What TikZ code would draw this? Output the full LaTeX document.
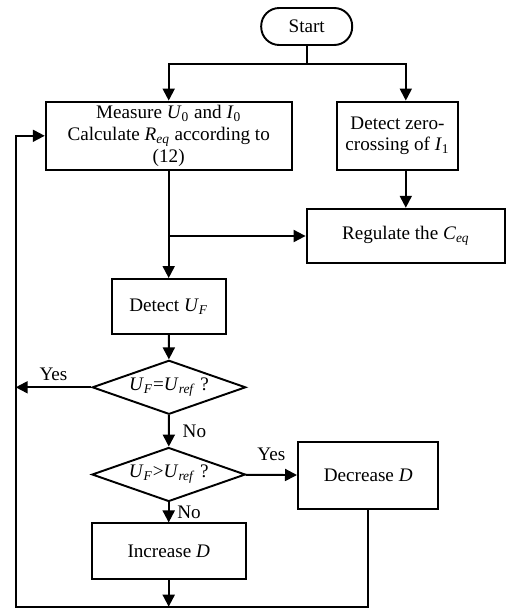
\documentclass[tikz,border=0pt]{standalone}
\usepackage{fontspec}
\setmainfont{Liberation Serif}
\usepackage{tikz}
\usetikzlibrary{shapes.geometric, arrows.meta, positioning}

\newcommand{\qty}[2]{\textit{#1}\textsubscript{#2}}

\begin{document}
\begin{tikzpicture}[
        x=0.02cm, y=-0.02cm,
        font=\fontsize{10.9}{12.4}\selectfont,
        terminal/.style={rectangle, rounded corners=3.6mm, draw, line width=1.1pt, minimum width=1.82cm, minimum height=0.74cm, inner sep=0pt},
        process/.style={rectangle, draw, line width=1.1pt, align=center, inner sep=0pt},
        decision/.style={diamond, aspect=2.9, draw, line width=1.1pt, inner sep=0pt, minimum width=3.07cm, minimum height=1.08cm},
        arrow/.style={-{Triangle[length=2.4mm, width=2.4mm]}, line width=1.1pt},
        line/.style={line width=1.1pt}
    ]

    \useasboundingbox (0,0) rectangle (506,608);

    % Start
    \node[terminal] (start) at (306.7,26.5) {Start};

    % Upper boxes
    \node[process, minimum width=4.92cm, minimum height=1.37cm] (measure) at (168.7,135.8) {Measure \qty{U}{0} and \qty{I}{0}\\Calculate \qty{R}{\textit{eq}} according to\\(12)};
    \node[process, minimum width=2.42cm, minimum height=1.37cm] (zero) at (397.5,135.8) {Detect zero-\\crossing of \qty{I}{1}};
    \node[process, minimum width=3.97cm, minimum height=1.09cm] (regulate) at (405.8,236) {Regulate the \qty{C}{\textit{eq}}};

    % Main chain
    \node[process, minimum width=2.28cm, minimum height=1.1cm] (detect) at (168.7,306.5) {Detect \qty{U}{\textit{F}}};
    \node[decision] (equal) at (169,387.3) {\qty{U}{\textit{F}}=\qty{U}{\textit{ref}} ?};
    \node[decision] (greater) at (168.7,474.5) {\qty{U}{\textit{F}}>\qty{U}{\textit{ref}} ?};
    \node[process, minimum width=2.81cm, minimum height=1.35cm] (decrease) at (368.2,475.3) {Decrease \textit{D}};
    \node[process, minimum width=3.08cm, minimum height=1.11cm] (increase) at (168.7,551.2) {Increase \textit{D}};

    % Junctions
    \coordinate (fork) at (306.7,64);
    \coordinate (tee) at (168.7,236);
    \coordinate (back) at (15.7,606.7);

    % Start to first boxes
    \draw[line] (start) -- (fork);
    \draw[arrow] (fork) -| (measure);
    \draw[arrow] (fork) -| (zero.north -| regulate);
    \draw[arrow] (zero.south -| regulate) -- (regulate);

    % Main flow
    \draw[arrow] (measure) -- (detect);
    \draw[arrow] (tee) -- (regulate);
    \draw[arrow] (detect) -- (equal);
    \draw[arrow] (equal.west) -- node[above] {Yes} (equal.west -| back);
    \draw[arrow] (equal) -- node[right=4pt] {No} (greater);
    \draw[arrow] (greater) -- node[above=4pt] {Yes} (decrease);
    \draw[arrow] (greater) -- node[right=1pt] {No} (increase);

    % Feedback loop
    \draw[arrow] (increase) -- (increase |- back);
    \draw[arrow] (decrease) |- (back) |- (measure.west);

    \end{tikzpicture}
\end{document}
